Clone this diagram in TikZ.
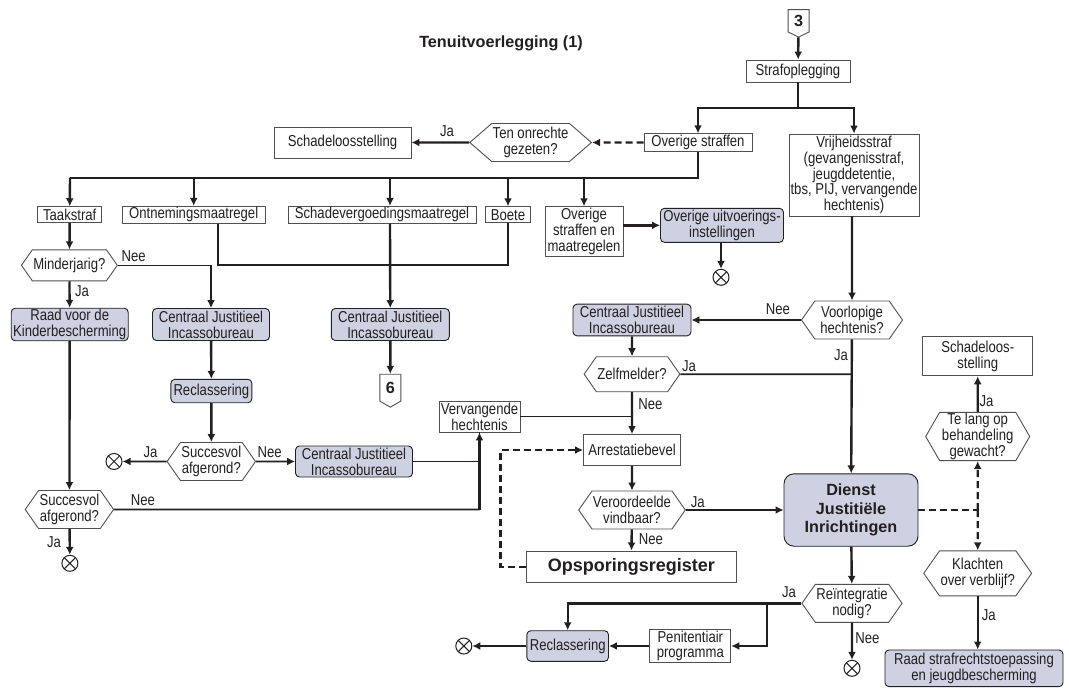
\documentclass[tikz,border=0pt]{standalone}
\usepackage{fontspec}
\setmainfont{Liberation Sans}[FakeStretch=0.83]
\newfontfamily\widefont{Liberation Sans}
\usetikzlibrary{shapes.symbols,arrows.meta}
\definecolor{instfill}{RGB}{206,209,225}
\definecolor{inkline}{RGB}{35,31,32}
\definecolor{boxline}{RGB}{80,80,80}
\newcommand{\bodysize}{\fontsize{15.8}{15.8}\selectfont}
\newcommand{\headsize}{\widefont\bfseries\fontsize{16.2}{18.3}\selectfont}
\begin{document}
\begin{tikzpicture}[x=1pt,y=-1pt,font=\bodysize,text=inkline,
    >={Latex[length=8pt,width=8pt]},
    box/.style={draw=boxline,line width=0.9pt,fill=white,inner sep=1pt,align=center},
    inst/.style={box,draw=inkline,fill=instfill,rounded corners=4pt},
    ask/.style={box,signal,signal to=west and east,signal pointer angle=110},
    offpage/.style={box,signal,signal to=south,signal from=nowhere,font=\headsize},
    stop/.style={circle,draw=inkline,line width=1pt,minimum size=16pt,inner sep=0pt,
        path picture={\draw[inkline,line width=1pt]
            (path picture bounding box.north west) -- (path picture bounding box.south east)
            (path picture bounding box.south west) -- (path picture bounding box.north east);}},
    conn/.style={draw=inkline,line width=2.4pt},
    thinconn/.style={draw=inkline,line width=1.6pt},
    flow/.style={conn,->},
    thinflow/.style={thinconn,->},
    hint/.style={dash pattern=on 7pt off 4pt},
    lbl/.style={inner sep=0pt}]
\useasboundingbox (0,0) rectangle (1069,688);

% title
\node[font=\headsize] (title) at (501,43) {Tenuitvoerlegging (1)};

% top part
\node[offpage,minimum width=21,minimum height=25,signal pointer angle=128] (three) at (798.6,20.8) {3};
\node[box,minimum width=104,minimum height=22] (straf) at (798,71) {Strafoplegging};
\node[box,minimum width=108,minimum height=17.5] (overig) at (698,142.5) {Overige straffen};
\node[box,minimum width=130,minimum height=82] (vrij) at (854,175) {Vrijheidsstraf\\(gevangenisstraf,\\jeugddetentie,\\tbs, PIJ, vervangende\\hechtenis)};
\node[ask,signal pointer angle=82,minimum width=121,minimum height=38] (onrecht) at (530.6,142.5) {Ten onrechte\\gezeten?};
\node[box,minimum width=137,minimum height=31] (schade) at (342.5,142.5) {Schadeloosstelling};

% kinds of penalties
\node[box,minimum width=64,minimum height=16] (taak) at (69.7,214.7) {Taakstraf};
\node[box,minimum width=143,minimum height=16] (ontn) at (193.7,214.7) {Ontnemingsmaatregel};
\node[box,minimum width=188,minimum height=16] (schadev) at (382,214.7) {Schadevergoedingsmaatregel};
\node[box,minimum width=45,minimum height=16] (boete) at (508,214.7) {Boete};
\node[box,minimum width=78,minimum height=50] (osm) at (584,231.7) {Overige\\straffen en\\maatregelen};
\node[inst,minimum width=123,minimum height=34] (oui) at (722,225.3) {Overige uitvoerings-\\instellingen};
\node[stop] (end1) at (721,277.3) {};

% left column
\node[ask,minimum width=92,minimum height=31] (minder) at (69.4,265.3) {Minderjarig?};
\node[inst,minimum width=117,minimum height=32] (rvdk) at (69.7,324.5) {Raad voor de\\Kinderbescherming};
\node[inst,minimum width=117,minimum height=32] (cjib1) at (211,324.5) {Centraal Justitieel\\Incassobureau};
\node[inst,minimum width=118,minimum height=32] (cjib2) at (390.3,324.5) {Centraal Justitieel\\Incassobureau};
\node[offpage,minimum width=21,minimum height=30,signal pointer angle=120] (six) at (390.3,387.7) {6};
\node[inst,minimum width=81,minimum height=23.4] (recl1) at (211.4,391) {Reclassering};
\node[ask,minimum width=85,minimum height=38] (succ1) at (211.3,461.5) {Succesvol\\afgerond?};
\node[stop] (end2) at (114,461.5) {};
\node[inst,minimum width=117,minimum height=31] (cjib3) at (354,461.5) {Centraal Justitieel\\Incassobureau};
\node[box,minimum width=81,minimum height=31] (verv) at (479.5,416.5) {Vervangende\\hechtenis};
\node[ask,minimum width=85,minimum height=38] (succ2) at (69.4,509.5) {Succesvol\\afgerond?};
\node[stop] (end3) at (69.9,563.3) {};

% middle column
\node[ask,minimum width=101,minimum height=38] (voorl) at (852,320) {Voorlopige\\hechtenis?};
\node[inst,minimum width=118,minimum height=31.7] (cjib4) at (632,320) {Centraal Justitieel\\Incassobureau};
\node[ask,minimum width=85,minimum height=35] (zelf) at (632,374.2) {Zelfmelder?};
\node[box,minimum width=97,minimum height=31] (arrest) at (632,450) {Arrestatiebevel};
\node[ask,minimum width=101,minimum height=38] (vind) at (632,510) {Veroordeelde\\vindbaar?};
\node[box,minimum width=210.6,minimum height=31.7,font=\widefont\bfseries\fontsize{18}{20}\selectfont] (opsp) at (631.3,566.8) {Opsporingsregister};
\node[inst,rounded corners=10pt,minimum width=134,minimum height=72.4,font=\headsize] (dji) at (851,510) {Dienst\\Justitiële\\Inrichtingen};
\node[ask,minimum width=96,minimum height=38] (reint) at (852,603.3) {Reïntegratie\\nodig?};
\node[stop] (end5) at (852,668.3) {};
\node[box,minimum width=81,minimum height=33] (pen) at (690.3,646) {Penitentiair\\programma};
\node[inst,minimum width=81.6,minimum height=30.6] (recl2) at (567.7,646) {Reclassering};
\node[stop] (end4) at (463.8,646) {};

% right column
\node[box,minimum width=110,minimum height=39] (schade2) at (977.7,356.3) {Schadeloos-\\stelling};
\node[ask,signal pointer angle=120,minimum width=104,minimum height=48] (telang) at (977.7,436.5) {Te lang op\\behandeling\\gewacht?};
\node[ask,minimum width=103,minimum height=45] (klacht) at (977.7,573.3) {Klachten\\over verblijf?};
\node[inst,minimum width=178,minimum height=36.7] (rsj) at (974,668.3) {Raad strafrechtstoepassing\\en jeugdbescherming};

% labels
\node[lbl] (ja1) at (447,130.7) {Ja};
\node[lbl] (nee1) at (133.6,256) {Nee};
\node[lbl] (ja2) at (82,290.7) {Ja};
\node[lbl] (ja3) at (150.5,451.7) {Ja};
\node[lbl] (nee2) at (269.6,451.7) {Nee};
\node[lbl] (nee3) at (143,500) {Nee};
\node[lbl] (ja4) at (54,541.7) {Ja};
\node[lbl] (nee4) at (778,309.3) {Nee};
\node[lbl] (ja5) at (841,354.7) {Ja};
\node[lbl] (ja6) at (689,366.3) {Ja};
\node[lbl] (nee5) at (650.5,403.7) {Nee};
\node[lbl] (ja7) at (986.6,401) {Ja};
\node[lbl] (ja8) at (697.7,502.3) {Ja};
\node[lbl] (nee6) at (650.9,538.7) {Nee};
\node[lbl] (ja9) at (789,591.7) {Ja};
\node[lbl] (nee7) at (867.5,638) {Nee};
\node[lbl] (ja10) at (988.7,615) {Ja};

% connectors, top
\coordinate (fork) at (798,107.7);
\coordinate (bus) at (70,177.7);
\coordinate (merge) at (390,265);
\draw[flow] (three) -- (straf);
\draw[flow] (straf) -- (fork) -| (overig);
\draw[flow] (fork) -| (vrij);
\draw[flow,hint] (overig) -- (onrecht);
\draw[flow] (onrecht) -- (schade);
\draw[conn] (overig) |- (bus);
\draw[flow] (bus) -- (taak);
\draw[flow] (bus -| ontn) -- (ontn);
\draw[flow] ([xshift=8pt]schadev.north |- bus) -- ([xshift=8pt]schadev.north);
\draw[flow] (bus -| boete) -- (boete);
\draw[flow] (bus -| osm) -- (osm);
\draw[flow] (osm.east |- oui.west) -- (oui);
\draw[flow] (oui.south -| end1) -- (end1);
\draw[conn] ([xshift=24pt]ontn.south) |- (merge -| boete) -- (boete);
\draw[flow] ([xshift=8pt]schadev.south) -- (cjib2);
\draw[flow] (cjib2) -- (six);

% connectors, left
\draw[flow] (taak) -- (minder);
\draw[thinflow] (minder) -| (cjib1);
\draw[flow] (minder) -- (rvdk);
\draw[flow] (cjib1) -- (recl1);
\draw[flow] (recl1) -- (succ1);
\draw[thinflow] (succ1) -- (end2);
\draw[thinflow] (succ1) -- (cjib3);
\draw[thinconn] (cjib3) -| (verv);
\draw[flow] (rvdk) -- (succ2);
\draw[thinconn] (succ2) -- (succ2 -| verv);
\draw[flow] (succ2 -| verv) -- (verv);
\draw[flow] (succ2) -- (end3);

% connectors, middle
\draw[flow] (vrij.south -| voorl) -- (voorl);
\draw[thinflow] (voorl) -- (cjib4);
\draw[flow] (cjib4) -- (zelf);
\draw[thinconn] (zelf) -- (zelf -| voorl);
\draw[flow] (voorl) -- (dji);
\draw[thinconn] (verv) -- (verv -| zelf);
\draw[flow] (zelf) -- (arrest);
\draw[flow,hint] (opsp.west) -- ++(-25,0) |- (arrest);
\draw[flow] (arrest) -- (vind);
\draw[thinflow] (vind) -- (dji);
\draw[flow] (vind) -- (opsp);
\draw[flow] (dji) -- (reint);
\draw[flow] (reint) -- (end5);
\coordinate (branch) at (767,603.3);
\draw[flow] (reint) -| (recl2);
\draw[flow] (branch) |- (pen);
\draw[flow] (pen) -- (recl2);
\draw[flow] (recl2) -- (end4);

% connectors, right
\coordinate (split) at (telang |- dji.east);
\draw[conn,hint] (dji) -- (split);
\draw[flow,hint] (split) -- (telang);
\draw[flow,hint] (split) -- (klacht);
\draw[flow] (telang) -- (schade2);
\draw[flow] (klacht.south) -- (klacht.south |- rsj.north);
\end{tikzpicture}
\end{document}
